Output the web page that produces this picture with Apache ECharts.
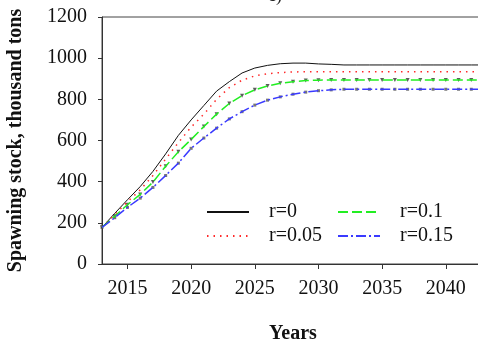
<!DOCTYPE html>
<html>
<head>
<meta charset="utf-8">
<script src="https://cdn.jsdelivr.net/npm/echarts@6/dist/echarts.min.js"></script>
<style>
  html, body { margin: 0; padding: 0; background: #fff; }
  #chart { width: 478px; height: 340px; }
</style>
</head>
<body>
<div id="chart"></div>
<script>
  // years of the projection
  var years = [2013, 2014, 2015, 2016, 2017, 2018, 2019, 2020, 2021, 2022, 2023, 2024, 2025, 2026, 2027, 2028,
    2029, 2030, 2031, 2032, 2033, 2034, 2035, 2036, 2037, 2038, 2039, 2040, 2041, 2042, 2043];
  // spawning stock, thousand tons
  var r0 = [178, 246, 312, 376, 450, 535, 625, 700, 770, 840, 886, 928, 952, 965, 973, 976,
    976, 972, 970, 967, 967, 967, 967, 967, 967, 967, 967, 967, 967, 967, 967];
  var r005 = [178, 240, 302, 360, 430, 510, 590, 665, 728, 800, 857, 893, 914, 924, 930, 933,
    934, 934, 934, 934, 934, 934, 934, 934, 934, 934, 934, 934, 934, 934, 934];
  var r01 = [178, 232, 288, 338, 398, 475, 545, 605, 668, 728, 780, 818, 846, 865, 878, 886,
    891, 893, 894, 894, 894, 894, 894, 894, 894, 894, 894, 894, 894, 894, 894];
  var r015 = [178, 225, 275, 320, 372, 430, 490, 562, 612, 660, 705, 740, 772, 796, 812, 825,
    835, 842, 846, 849, 849, 849, 849, 849, 849, 849, 849, 849, 849, 849, 849];
  var xTicks = [2015, 2020, 2025, 2030, 2035, 2040];

  function pairs(arr) {
    return years.map(function (y, i) { return [y, arr[i]]; });
  }

  function extendObj(a, b) {
    var o = {};
    for (var k in a) o[k] = a[k];
    for (var k2 in b) o[k2] = b[k2];
    return o;
  }

  var serif = 'Liberation Serif';
  var myChart = echarts.init(document.getElementById('chart'));

  var legendCommon = {
    orient: 'vertical',
    top: 202,
    padding: 0,
    itemWidth: 42,
    itemHeight: 10,
    itemGap: 4,
    itemStyle: { opacity: 0 },
    textStyle: {
      fontFamily: serif,
      fontSize: 20,
      color: '#111',
      padding: [0, 0, 0, 15]
    }
  };

  var option = {
    animation: false,
    title: {
      text: 'c)',
      left: 268,
      top: -13,
      padding: 0,
      textStyle: { fontFamily: serif, fontSize: 18, fontWeight: 'normal', color: '#222' }
    },
    grid: {
      left: 102,
      top: 17,
      right: -6,
      bottom: 76,
      containLabel: false,
      outerBoundsMode: 'none',
      show: true,
      borderColor: '#444',
      borderWidth: 1
    },
    legend: [
      extendObj(legendCommon, { left: 206, data: ['r=0', 'r=0.05'] }),
      extendObj(legendCommon, { left: 337, data: ['r=0.1', 'r=0.15'] })
    ],
    xAxis: {
      type: 'value',
      min: 2013,
      max: 2043,
      name: 'Years',
      nameLocation: 'middle',
      nameGap: 60,
      nameTextStyle: { fontFamily: serif, fontSize: 20, fontWeight: 'bold', color: '#111' },
      splitLine: { show: false },
      axisLine: { show: true, lineStyle: { color: '#333' } },
      axisTick: { show: true, length: 5, lineStyle: { color: '#333' }, customValues: xTicks },
      axisLabel: {
        fontFamily: serif, fontSize: 20, color: '#111', margin: 15,
        customValues: xTicks,
        formatter: function (v) { return String(v); }
      }
    },
    yAxis: {
      type: 'value',
      min: 0,
      max: 1200,
      interval: 200,
      name: 'Spawning stock, thousand tons',
      nameLocation: 'middle',
      nameGap: 76,
      nameTextStyle: { fontFamily: serif, fontSize: 20, fontWeight: 'bold', color: '#111' },
      splitLine: { show: false },
      axisLine: { show: true, lineStyle: { color: '#333' } },
      axisTick: { show: true, length: 4, lineStyle: { color: '#333' } },
      axisLabel: {
        fontFamily: serif, fontSize: 20, color: '#111', margin: 15,
        formatter: function (v) { return String(v); }
      }
    },
    series: [
      {
        name: 'r=0', type: 'line', symbol: 'none', data: pairs(r0),
        lineStyle: { color: '#111', width: 1 }, itemStyle: { color: '#111' }
      },
      {
        name: 'r=0.05', type: 'line', symbol: 'none', data: pairs(r005),
        lineStyle: { color: '#ff2a2a', width: 1.5, type: [1.5, 5] }, itemStyle: { color: '#ff2a2a' }
      },
      {
        name: 'r=0.1', type: 'line', symbol: 'none', data: pairs(r01),
        lineStyle: { color: '#22ee22', width: 1.5, type: [10, 4] }, itemStyle: { color: '#22ee22' }
      },
      {
        name: 'r=0.15', type: 'line', symbol: 'none', data: pairs(r015),
        lineStyle: { color: '#3a3aff', width: 1.5, type: [10, 3, 2, 3] }, itemStyle: { color: '#3a3aff' }
      },
      // yearly markers on the two lower curves
      {
        type: 'scatter', silent: true, data: pairs(r01),
        symbol: 'triangle', symbolRotate: 180, symbolSize: 4,
        itemStyle: { color: '#333' }
      },
      {
        type: 'scatter', silent: true, data: pairs(r015),
        symbol: 'rect', symbolSize: 3,
        itemStyle: { color: '#555' }
      }
    ]
  };

  myChart.setOption(option);
</script>
</body>
</html>
